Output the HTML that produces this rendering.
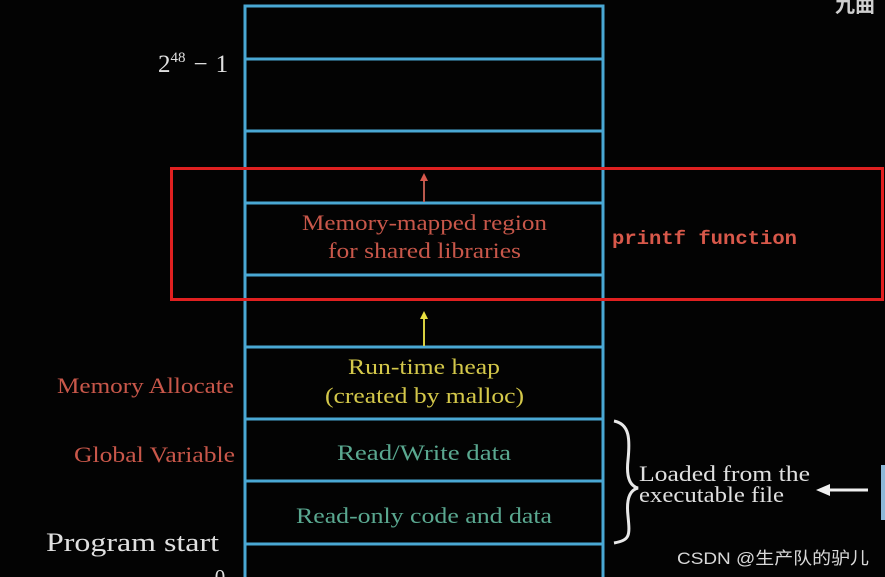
<!DOCTYPE html>
<html><head><meta charset="utf-8"><style>
html,body{margin:0;padding:0;background:#030303;}
svg{display:block}
text{font-family:"Liberation Serif",serif;}
</style></head><body>
<svg width="885" height="577" viewBox="0 0 885 577" xmlns="http://www.w3.org/2000/svg">
<rect width="885" height="577" fill="#030303"/>
<g stroke="#4aa8d4" stroke-width="3" fill="none">
<path d="M245 580 V6 H603 V580"/>
<line x1="245" y1="59" x2="603" y2="59"/>
<line x1="245" y1="131" x2="603" y2="131"/>
<line x1="245" y1="203" x2="603" y2="203"/>
<line x1="245" y1="275" x2="603" y2="275"/>
<line x1="245" y1="347" x2="603" y2="347"/>
<line x1="245" y1="419" x2="603" y2="419"/>
<line x1="245" y1="481" x2="603" y2="481"/>
<line x1="245" y1="544" x2="603" y2="544"/>
</g>
<rect x="171.5" y="168.5" width="711" height="131" fill="none" stroke="#e02020" stroke-width="3"/>
<line x1="424" y1="202" x2="424" y2="180" stroke="#b8584c" stroke-width="2"/>
<path d="M420 181 L424 173 L428 181Z" fill="#d8584c"/>
<line x1="424" y1="346" x2="424" y2="318" stroke="#d8d040" stroke-width="2"/>
<path d="M420 319 L424 311 L428 319Z" fill="#e8e040"/>
<g font-size="22" lengthAdjust="spacingAndGlyphs">
<text x="302" y="230" fill="#c8574a" textLength="245" lengthAdjust="spacingAndGlyphs">Memory-mapped region</text>
<text x="328" y="258" fill="#c8574a" textLength="193" lengthAdjust="spacingAndGlyphs">for shared libraries</text>
<text x="612" y="244" font-size="19" fill="#d8584a" font-weight="bold" style="font-family:'Liberation Mono',monospace" textLength="185" lengthAdjust="spacingAndGlyphs">printf function</text>
<text x="348" y="374" fill="#d4c84a" textLength="152" lengthAdjust="spacingAndGlyphs">Run-time heap</text>
<text x="325" y="403" fill="#d4c84a" textLength="199" lengthAdjust="spacingAndGlyphs">(created by malloc)</text>
<text x="337" y="460" fill="#5aa890" textLength="174" lengthAdjust="spacingAndGlyphs">Read/Write data</text>
<text x="296" y="523" fill="#5aa890" textLength="256" lengthAdjust="spacingAndGlyphs">Read-only code and data</text>
<text x="57" y="393" fill="#c8574a" textLength="177" lengthAdjust="spacingAndGlyphs">Memory Allocate</text>
<text x="74" y="462" fill="#c8574a" textLength="161" lengthAdjust="spacingAndGlyphs">Global Variable</text>
<text x="46" y="551" font-size="26" fill="#e0e0e0" textLength="173" lengthAdjust="spacingAndGlyphs">Program start</text>
<text x="639" y="481" fill="#e0e0e0" textLength="171" lengthAdjust="spacingAndGlyphs">Loaded from the</text>
<text x="639" y="502" fill="#e0e0e0" textLength="145" lengthAdjust="spacingAndGlyphs">executable file</text>
</g>
<text x="220" y="584" font-size="21" fill="#e0e0e0" text-anchor="middle">0</text>
<text x="158" y="72" font-size="25" fill="#e0e0e0">2<tspan font-size="15" dy="-10">48</tspan><tspan dy="10" dx="8">−</tspan><tspan dx="8">1</tspan></text>
<path d="M614 421 C630 424,630 440,628 460 C626 478,630 486,638 488 C630 490,626 498,628 516 C630 536,630 540,614 543" fill="none" stroke="#e8e8e8" stroke-width="3"/>
<line x1="828" y1="490" x2="868" y2="490" stroke="#f0f0f0" stroke-width="3"/>
<path d="M830 484 L816 490 L830 496Z" fill="#f0f0f0"/>
<rect x="881" y="465" width="4" height="55" fill="#8cb8d8"/>
<text x="835" y="12" font-size="20" fill="#cfcfcf" font-weight="bold" style="font-family:'Noto Sans CJK SC',sans-serif">九曲</text>
<text x="677" y="564" font-size="17" fill="#d8d8d8" style="font-family:'Liberation Sans','Noto Sans CJK SC',sans-serif" textLength="192" lengthAdjust="spacingAndGlyphs">CSDN @生产队的驴儿</text>
</svg>
</body></html>
